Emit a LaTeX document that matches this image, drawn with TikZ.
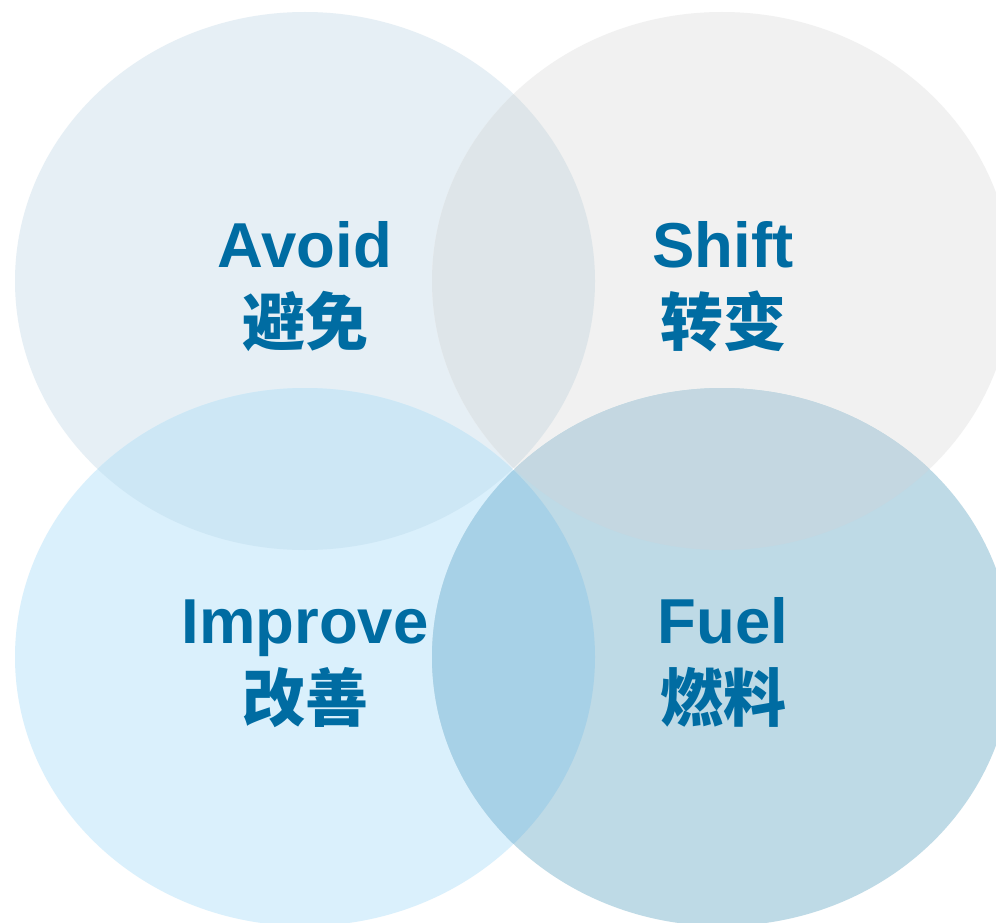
\documentclass[tikz,border=0pt]{standalone}
\usepackage{fontspec}
\setmainfont{Liberation Sans}
\newfontfamily\cjkfont{Noto Sans CJK SC}
\definecolor{avoidfill}{HTML}{E6EFF5}
\definecolor{shiftfill}{HTML}{F1F1F1}
\definecolor{improvefill}{HTML}{DAF0FC}
\definecolor{fuelfill}{HTML}{BEDAE6}
\definecolor{avoidshift}{HTML}{DEE5E9}
\definecolor{avoidimprove}{HTML}{CDE7F5}
\definecolor{shiftfuel}{HTML}{C4D7E1}
\definecolor{improvefuel}{HTML}{A7D1E7}
\definecolor{labelblue}{HTML}{006CA2}

\begin{document}
\begin{tikzpicture}[x=1pt,y=-1pt,
  blob/.style={x radius=290pt,y radius=269pt},
  en/.style={font=\fontsize{63.5}{63.5}\selectfont\bfseries,text=labelblue,anchor=base},
  zh/.style={font=\fontsize{63}{63}\selectfont\cjkfont\bfseries,text=labelblue,anchor=base}]
\clip (0,0) rectangle (996,923);
\fill[white] (0,0) rectangle (996,923);
\coordinate (A) at (305,281);
\coordinate (S) at (722,281);
\coordinate (I) at (305,657);
\coordinate (F) at (722,657);

% the four circles
\fill[avoidfill] (A) ellipse [blob];
\fill[shiftfill] (S) ellipse [blob];
\fill[improvefill] (I) ellipse [blob];
\fill[fuelfill] (F) ellipse [blob];

% overlaps
\begin{scope}
\clip (A) ellipse [blob];
\fill[avoidshift] (S) ellipse [blob];
\fill[avoidimprove] (I) ellipse [blob];
\end{scope}
\begin{scope}
\clip (F) ellipse [blob];
\fill[shiftfuel] (S) ellipse [blob];
\fill[improvefuel] (I) ellipse [blob];
\end{scope}

\node[en] (avoid) at (305,267) {Avoid};
\node[zh] (avoidzh) at (305,345) {避免};
\node[en] (shift) at (723,267) {Shift};
\node[zh] (shiftzh) at (723,345) {转变};
\node[en] (improve) at (305,643) {Improve};
\node[zh] (improvezh) at (305,721) {改善};
\node[en] (fuel) at (723,643) {Fuel};
\node[zh] (fuelzh) at (723,721) {燃料};
\end{tikzpicture}
\end{document}
